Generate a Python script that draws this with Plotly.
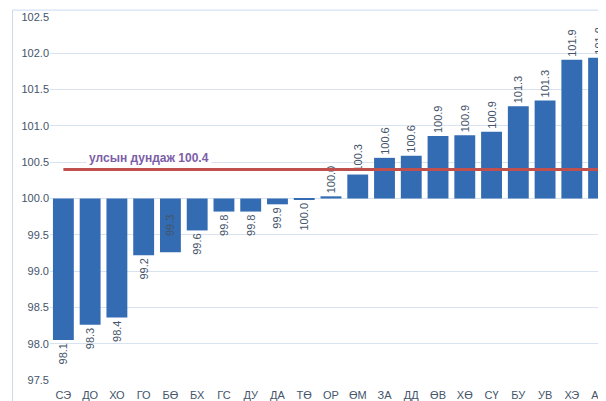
import plotly.graph_objects as go

# aimag codes and index values (previous period = 100)
codes = ["СЭ", "ДО", "ХО", "ГО", "БӨ", "БХ", "ГС", "ДУ", "ДА", "ТӨ", "ОР",
         "ӨМ", "ЗА", "ДД", "ӨВ", "ХӨ", "СҮ", "БУ", "УВ", "ХЭ", "АР"]
index_vals = [98.05, 98.26, 98.36, 99.22, 99.26, 99.56, 99.82, 99.82, 99.92, 99.98, 100.03,
              100.33, 100.56, 100.59, 100.86, 100.87, 100.92, 101.27, 101.35, 101.91, 101.94]
index_lbl = ["98.1", "98.3", "98.4", "99.2", "99.3", "99.6", "99.8", "99.8", "99.9", "100.0", "100.0",
             "100.3", "100.6", "100.6", "100.9", "100.9", "100.9", "101.3", "101.3", "101.9", "101.9"]
national_avg = 100.4
base_val = 100
y_ticks = [97.5, 98.0, 98.5, 99.0, 99.5, 100.0, 100.5, 101.0, 101.5, 102.0, 102.5]

txt_col = "#44546a"
pos = ["inside" if i == 4 else "outside" for i in range(len(codes))]

fig = go.Figure()
fig.add_trace(go.Bar(
    x=codes,
    y=[v - base_val for v in index_vals],
    base=[base_val] * len(codes),
    text=index_lbl,
    textposition=pos,
    insidetextanchor="middle",
    textangle=-90,
    constraintext="none",
    textfont=dict(size=11, color=txt_col, family="Liberation Sans"),
    cliponaxis=False,
    marker=dict(color="#336cb3", line=dict(width=0)),
    hoverinfo="x+text",
))
# national average line
fig.add_trace(go.Scatter(
    x=codes,
    y=[national_avg] * len(codes),
    mode="lines",
    line=dict(color="#c0504d", width=3),
    hoverinfo="skip",
))

fig.add_annotation(
    x=0.18, xref="paper", xanchor="center",
    y=100.415, yref="y", yanchor="bottom",
    text="<b>улсын дундаж 100.4</b>",
    showarrow=False,
    font=dict(size=12, color="#7b5ea7", family="Liberation Sans"),
    bgcolor="white", borderpad=2,
)

# chart area border (left/top)
fig.add_shape(type="line", xref="paper", yref="paper",
              x0=-0.068, x1=-0.068, y0=-0.1, y1=1.019,
              line=dict(color="#c9daf0", width=1))
fig.add_shape(type="line", xref="paper", yref="paper",
              x0=-0.068, x1=1.1, y0=1.019, y1=1.019,
              line=dict(color="#c9daf0", width=1))

# page body adds ~8px offset, so the figure is sized to end at the window edge
fig.update_layout(
    width=598, height=393,
    margin=dict(l=42, r=0, t=9, b=18),
    paper_bgcolor="white", plot_bgcolor="white",
    showlegend=False,
    bargap=0.22,
    font=dict(family="Liberation Sans", size=11, color=txt_col),
    xaxis=dict(
        type="category",
        range=[-0.5, 20.09],
        showgrid=False, zeroline=False, showline=False,
        ticks="outside", ticklen=5, tickcolor="rgba(0,0,0,0)",
        tickfont=dict(size=11, color=txt_col),
    ),
    yaxis=dict(
        range=[97.5, 102.5],
        tickvals=y_ticks,
        ticktext=[f"{t:.1f}" for t in y_ticks],
        showgrid=True, gridcolor="#d9e2ef", gridwidth=1,
        zeroline=False, showline=False,
        tickfont=dict(size=11, color=txt_col),
    ),
)

fig.write_html("out.html")
